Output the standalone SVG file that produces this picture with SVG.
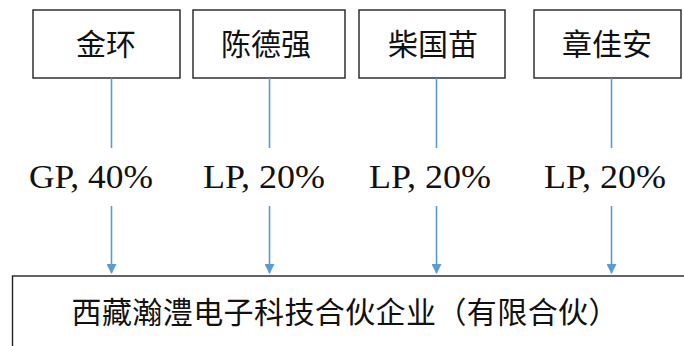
<svg xmlns="http://www.w3.org/2000/svg" width="684" height="346" viewBox="0 0 684 346">
<style>
.box{fill:#fff;stroke:#222;stroke-width:1.4}
.cjk{font-family:"Noto Sans CJK SC","Noto Sans",sans-serif;font-size:30px;fill:#111;text-anchor:middle}
.lbl{font-family:"Liberation Serif","Times New Roman",serif;font-size:33px;fill:#111;text-anchor:middle}
.ln{stroke:#5B9BD5;stroke-width:1.6;fill:none}
</style>
<defs>
<marker id="ah" markerWidth="10" markerHeight="10" refX="9" refY="5" orient="auto" markerUnits="userSpaceOnUse">
<path d="M0,0 L10,5 L0,10 Z" fill="#5B9BD5"/>
</marker>
</defs>
<rect width="684" height="346" fill="#fff"/>
<g id="n1"><rect class="box" x="33" y="10" width="147" height="68"/><text class="cjk" x="106" y="55">金环</text></g>
<g id="n2"><rect class="box" x="193" y="10" width="152" height="68"/><text class="cjk" x="266" y="55">陈德强</text></g>
<g id="n3"><rect class="box" x="359" y="10" width="146" height="68"/><text class="cjk" x="433" y="55">柴国苗</text></g>
<g id="n4"><rect class="box" x="534" y="10" width="147" height="68"/><text class="cjk" x="607" y="55">章佳安</text></g>
<g id="n5"><rect class="box" x="12.5" y="276" width="690" height="100"/><text class="cjk" x="345" y="323" textLength="547" lengthAdjust="spacing">西藏瀚澧电子科技合伙企业（有限合伙）</text></g>
<g id="labels">
<text class="lbl" x="91" y="188" textLength="124" lengthAdjust="spacingAndGlyphs">GP, 40%</text>
<text class="lbl" x="264" y="188" textLength="122" lengthAdjust="spacingAndGlyphs">LP, 20%</text>
<text class="lbl" x="430" y="188" textLength="122" lengthAdjust="spacingAndGlyphs">LP, 20%</text>
<text class="lbl" x="605" y="188" textLength="122" lengthAdjust="spacingAndGlyphs">LP, 20%</text>
</g>
<g id="connectors">
<line class="ln" x1="111.5" y1="78" x2="111.5" y2="148"/>
<line class="ln" x1="269.5" y1="78" x2="269.5" y2="148"/>
<line class="ln" x1="436.5" y1="78" x2="436.5" y2="148"/>
<line class="ln" x1="611.5" y1="78" x2="611.5" y2="148"/>
<line class="ln" x1="111.5" y1="206" x2="111.5" y2="273" marker-end="url(#ah)"/>
<line class="ln" x1="269.5" y1="206" x2="269.5" y2="273" marker-end="url(#ah)"/>
<line class="ln" x1="436.5" y1="206" x2="436.5" y2="273" marker-end="url(#ah)"/>
<line class="ln" x1="611.5" y1="206" x2="611.5" y2="273" marker-end="url(#ah)"/>
</g>
</svg>
